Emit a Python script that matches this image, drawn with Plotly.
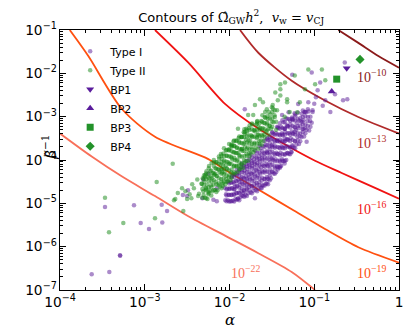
import plotly.graph_objects as go

# log10 values
# contour lines: (log10 alpha, log10 beta^-1)
contour_m10 = [(-0.716, -1.0), (-0.48, -1.297), (-0.244, -1.60), (0.0, -1.87)]
contour_m13 = [(-1.876, -1.0), (-1.66, -1.525), (-1.266, -2.17), (-0.873, -2.627),
               (-0.48, -3.008), (0.0, -3.39)]
contour_m16 = [(-2.879, -1.0), (-2.486, -1.753), (-2.053, -2.704), (-1.66, -3.275),
               (-1.266, -3.731), (-0.991, -4.018), (-0.676, -4.301), (-0.283, -4.644),
               (0.0, -4.895)]
contour_m19 = [(-3.885, -1.0), (-3.666, -1.60), (-3.272, -2.818), (-2.879, -3.464),
               (-2.25, -3.98), (-2.053, -4.224), (-1.66, -4.68), (-1.266, -5.137),
               (-0.873, -5.593), (-0.48, -6.013), (0.0, -6.368)]
contour_m22 = [(-4.0, -3.389), (-3.626, -3.92), (-3.272, -4.377), (-2.879, -4.833),
               (-2.486, -5.30), (-2.053, -5.746), (-1.66, -6.15), (-1.266, -6.583),
               (-0.991, -7.0)]

contour_labels = ["10<sup>\u221210</sup>", "10<sup>\u221213</sup>", "10<sup>\u221216</sup>",
                  "10<sup>\u221219</sup>", "10<sup>\u221222</sup>"]
label_pos = [(-0.322, -2.056), (-0.322, -3.578), (-0.322, -5.10), (-0.322, -6.583), (-1.817, -6.583)]
contour_colors = ["#8b1a1a", "#b02a2a", "#f01212", "#ff5010", "#f8705a"]

typeI_points = [
    (-2.05, -4.93), (-2.041, -4.79), (-2.058, -4.64),
    (-2.02, -4.93), (-2.011, -4.80), (-2.027, -4.66), (-2.015, -4.50),
    (-1.99, -4.95), (-1.979, -4.80), (-1.997, -4.66), (-1.985, -4.52),
    (-1.96, -4.94), (-1.951, -4.79), (-1.967, -4.65), (-1.955, -4.51), (-1.971, -4.37),
    (-1.93, -4.90), (-1.919, -4.76), (-1.937, -4.62), (-1.926, -4.48), (-1.942, -4.34),
    (-1.90, -4.90), (-1.889, -4.75), (-1.907, -4.60), (-1.896, -4.45), (-1.912, -4.31),
    (-1.87, -4.86), (-1.859, -4.72), (-1.877, -4.57), (-1.866, -4.44), (-1.882, -4.30), (-1.862, -4.16),
    (-1.84, -4.83), (-1.829, -4.69), (-1.847, -4.55), (-1.836, -4.41), (-1.852, -4.28), (-1.832, -4.14),
    (-1.81, -4.81), (-1.799, -4.66), (-1.817, -4.52), (-1.806, -4.38), (-1.822, -4.24), (-1.802, -4.10),
    (-1.78, -4.77), (-1.769, -4.62), (-1.787, -4.48), (-1.776, -4.34), (-1.792, -4.21), (-1.772, -4.07),
    (-1.75, -4.75), (-1.739, -4.60), (-1.757, -4.45), (-1.746, -4.31), (-1.762, -4.17), (-1.742, -4.03),
    (-1.753, -3.88),
    (-1.72, -4.71), (-1.709, -4.56), (-1.727, -4.42), (-1.716, -4.27), (-1.732, -4.13), (-1.712, -3.99),
    (-1.69, -4.69), (-1.679, -4.53), (-1.697, -4.38), (-1.686, -4.23), (-1.702, -4.09), (-1.682, -3.94),
    (-1.693, -3.79),
    (-1.66, -4.66), (-1.649, -4.51), (-1.667, -4.36), (-1.656, -4.21), (-1.672, -4.07), (-1.652, -3.92),
    (-1.63, -4.64), (-1.619, -4.48), (-1.637, -4.32), (-1.626, -4.17), (-1.642, -4.03), (-1.622, -3.88),
    (-1.633, -3.73),
    (-1.60, -4.59), (-1.589, -4.44), (-1.607, -4.28), (-1.596, -4.13), (-1.612, -3.99), (-1.592, -3.84),
    (-1.603, -3.68),
    (-1.57, -4.54), (-1.559, -4.39), (-1.577, -4.24), (-1.566, -4.09), (-1.582, -3.94), (-1.562, -3.80),
    (-1.573, -3.65), (-1.556, -3.50),
    (-1.54, -4.44), (-1.529, -4.29), (-1.547, -4.14), (-1.536, -3.99), (-1.552, -3.84), (-1.532, -3.69),
    (-1.543, -3.54),
    (-1.51, -4.42), (-1.499, -4.27), (-1.517, -4.12), (-1.506, -3.97), (-1.522, -3.82), (-1.502, -3.67),
    (-1.513, -3.52), (-1.496, -3.37),
    (-1.48, -4.31), (-1.469, -4.15), (-1.487, -4.00), (-1.476, -3.85), (-1.492, -3.70), (-1.472, -3.55),
    (-1.483, -3.40),
    (-1.45, -4.28), (-1.439, -4.13), (-1.457, -3.98), (-1.446, -3.83), (-1.462, -3.68), (-1.442, -3.53),
    (-1.453, -3.38), (-1.436, -3.23),
    (-1.42, -4.17), (-1.409, -4.01), (-1.427, -3.86), (-1.416, -3.71), (-1.432, -3.56), (-1.412, -3.41),
    (-1.423, -3.26),
    (-1.39, -4.13), (-1.379, -3.98), (-1.397, -3.83), (-1.386, -3.68), (-1.402, -3.53), (-1.382, -3.38),
    (-1.393, -3.23), (-1.376, -3.08),
    (-1.36, -4.03), (-1.349, -3.88), (-1.367, -3.73), (-1.356, -3.58), (-1.372, -3.43), (-1.352, -3.28),
    (-1.363, -3.13),
    (-1.33, -4.00), (-1.319, -3.84), (-1.337, -3.68), (-1.326, -3.52), (-1.342, -3.36), (-1.322, -3.20),
    (-1.333, -3.04),
    (-1.30, -3.86), (-1.289, -3.70), (-1.307, -3.54), (-1.296, -3.38), (-1.312, -3.22), (-1.292, -3.06),
    (-1.303, -2.90),
    (-1.27, -3.82), (-1.259, -3.66), (-1.277, -3.50), (-1.266, -3.34), (-1.282, -3.18), (-1.262, -3.02),
    (-1.24, -3.72), (-1.229, -3.56), (-1.247, -3.40), (-1.236, -3.24), (-1.252, -3.08), (-1.232, -2.92),
    (-1.21, -3.64), (-1.199, -3.47), (-1.217, -3.31), (-1.206, -3.15), (-1.222, -2.99),
    (-1.18, -3.63), (-1.169, -3.45), (-1.187, -3.27), (-1.176, -3.09), (-1.192, -2.91),
    (-1.15, -3.47), (-1.139, -3.29), (-1.157, -3.11), (-1.146, -2.93),
    (-1.12, -3.46), (-1.109, -3.27), (-1.127, -3.08), (-1.116, -2.89),
    (-1.09, -3.30), (-1.079, -3.10), (-1.097, -2.90),
    (-1.06, -3.32), (-1.049, -3.10), (-1.067, -2.88),
    (-1.03, -3.14), (-1.019, -2.89),
    # second pass through the dense core
    (-2.035, -4.95), (-2.035, -4.82), (-2.035, -4.68),
    (-2.005, -4.96), (-2.005, -4.81), (-2.005, -4.67), (-2.005, -4.54),
    (-1.975, -4.95), (-1.975, -4.81), (-1.975, -4.66), (-1.975, -4.52), (-1.975, -4.40),
    (-1.945, -4.96), (-1.945, -4.80), (-1.945, -4.68), (-1.945, -4.54), (-1.945, -4.39),
    (-1.915, -4.92), (-1.915, -4.77), (-1.915, -4.61), (-1.915, -4.49), (-1.915, -4.36), (-1.915, -4.23),
    (-1.885, -4.93), (-1.885, -4.77), (-1.885, -4.64), (-1.885, -4.50), (-1.885, -4.36), (-1.885, -4.23),
    (-1.855, -4.82), (-1.855, -4.66), (-1.855, -4.51), (-1.855, -4.39), (-1.855, -4.23), (-1.855, -4.08),
    (-1.825, -4.85), (-1.825, -4.72), (-1.825, -4.58), (-1.825, -4.43), (-1.825, -4.30), (-1.825, -4.17),
    (-1.795, -4.83), (-1.795, -4.68), (-1.795, -4.57), (-1.795, -4.43), (-1.795, -4.29), (-1.795, -4.15),
    (-1.795, -4.02),
    (-1.765, -4.70), (-1.765, -4.56), (-1.765, -4.40), (-1.765, -4.27), (-1.765, -4.12), (-1.765, -3.98),
    (-1.735, -4.77), (-1.735, -4.61), (-1.735, -4.48), (-1.735, -4.33), (-1.735, -4.19), (-1.735, -4.07),
    (-1.735, -3.94),
    (-1.705, -4.64), (-1.705, -4.48), (-1.705, -4.33), (-1.705, -4.18), (-1.705, -4.05), (-1.705, -3.90),
    (-1.675, -4.72), (-1.675, -4.57), (-1.675, -4.41), (-1.675, -4.26), (-1.675, -4.12), (-1.675, -3.98),
    (-1.675, -3.84),
    (-1.645, -4.58), (-1.645, -4.42), (-1.645, -4.28), (-1.645, -4.12), (-1.645, -3.98), (-1.645, -3.83),
    (-1.645, -3.67),
    (-1.615, -4.58), (-1.615, -4.41), (-1.615, -4.25), (-1.615, -4.10), (-1.615, -3.95), (-1.615, -3.79),
    (-1.585, -4.59), (-1.585, -4.44), (-1.585, -4.29), (-1.585, -4.15), (-1.585, -4.01), (-1.585, -3.86),
    (-1.585, -3.70), (-1.585, -3.56),
    (-1.555, -4.43), (-1.555, -4.27), (-1.555, -4.12), (-1.555, -3.96), (-1.555, -3.82), (-1.555, -3.66),
    (-1.555, -3.52),
    (-1.525, -4.47), (-1.525, -4.36), (-1.525, -4.20), (-1.525, -4.05), (-1.525, -3.89), (-1.525, -3.74),
    (-1.525, -3.60), (-1.525, -3.46),
    (-1.495, -4.27), (-1.495, -4.11), (-1.495, -3.96), (-1.495, -3.81), (-1.495, -3.65), (-1.495, -3.51),
    (-1.495, -3.36),
    (-1.465, -4.32), (-1.465, -4.19), (-1.465, -4.03), (-1.465, -3.88), (-1.465, -3.72), (-1.465, -3.58),
    (-1.465, -3.42),
    (-1.435, -4.17), (-1.435, -4.02), (-1.435, -3.86), (-1.435, -3.70), (-1.435, -3.56), (-1.435, -3.41),
    (-1.435, -3.25),
    (-1.405, -4.18), (-1.405, -4.04), (-1.405, -3.89), (-1.405, -3.73), (-1.405, -3.58), (-1.405, -3.43),
    (-1.405, -3.28), (-1.405, -3.15),
    (-1.375, -4.02), (-1.375, -3.87), (-1.375, -3.71), (-1.375, -3.57), (-1.375, -3.41), (-1.375, -3.26),
    (-1.345, -4.02), (-1.345, -3.86), (-1.345, -3.73), (-1.345, -3.57), (-1.345, -3.42), (-1.345, -3.28),
    (-1.345, -3.13),
    (-1.315, -3.84), (-1.315, -3.69), (-1.315, -3.52), (-1.315, -3.38), (-1.315, -3.22), (-1.315, -3.05),
    (-1.285, -3.87), (-1.285, -3.72), (-1.285, -3.56), (-1.285, -3.41), (-1.285, -3.25), (-1.285, -3.10),
    (-1.255, -3.69), (-1.255, -3.53), (-1.255, -3.38), (-1.255, -3.21), (-1.255, -3.06),
    (-1.225, -3.73), (-1.225, -3.57), (-1.225, -3.41), (-1.225, -3.25), (-1.225, -3.09), (-1.225, -2.95),
    (-1.195, -3.55), (-1.195, -3.38), (-1.195, -3.22), (-1.195, -3.06),
    (-1.165, -3.57), (-1.165, -3.39), (-1.165, -3.21), (-1.165, -3.03),
    (-1.135, -3.36), (-1.135, -3.18), (-1.135, -3.01), (-1.135, -2.86),
    (-1.105, -3.38), (-1.105, -3.18), (-1.105, -2.99),
    (-1.075, -3.21), (-1.075, -3.01), (-1.075, -2.83),
    (-1.045, -3.23), (-1.045, -3.00),
    # upper tail
    (-1.26, -2.03), (-1.03, -1.98), (-0.96, -2.39), (-0.87, -2.62), (-0.755, -2.48),
    (-0.66, -2.62), (-0.61, -2.60), (-1.07, -2.67), (-1.19, -2.71), (-1.11, -2.89),
    (-1.02, -2.85), (-1.26, -3.05), (-1.14, -3.12), (-1.38, -2.96), (-1.35, -3.28),
    (-1.13, -3.28), (-1.23, -3.35), (-1.35, -3.51), (-1.82, -2.83), (-0.93, -2.21),
    (-0.81, -2.89), (-0.64, -1.75), (-0.98, -2.55), (-0.90, -2.75), (-1.00, -2.70),
    # lower-right fringe
    (-1.09, -3.58), (-1.40, -4.15), (-1.545, -4.56), (-1.27, -3.81), (-1.70, -4.88),
    (-1.90, -4.88), (-1.84, -4.76), (-1.94, -4.67), (-1.62, -4.65), (-1.56, -4.54),
    (-1.43, -4.22), (-1.35, -4.08),
    # left fringe
    (-2.55, -4.81), (-2.50, -4.83), (-2.32, -4.88), (-2.19, -4.92), (-2.15, -4.95),
    (-2.31, -4.45), (-2.25, -4.31), (-2.15, -4.65), (-2.49, -4.70),
    # outliers
    (-3.626, -6.635), (-3.418, -6.583), (-3.292, -6.20), (-3.29, -6.21), (-3.469, -5.084),
    (-3.127, -5.045), (-3.048, -5.456), (-2.95, -5.593), (-2.80, -5.03), (-2.793, -5.44),
    (-2.737, -5.175),
]

typeII_points = [
    (-2.32, -4.87), (-2.309, -4.72), (-2.327, -4.55), (-2.316, -4.42),
    (-2.29, -4.87), (-2.279, -4.66), (-2.297, -4.50), (-2.286, -4.34),
    (-2.26, -4.90), (-2.249, -4.73), (-2.267, -4.57), (-2.256, -4.40), (-2.272, -4.26),
    (-2.23, -4.71), (-2.219, -4.58), (-2.237, -4.42), (-2.226, -4.26), (-2.242, -4.14),
    (-2.20, -4.72), (-2.189, -4.57), (-2.207, -4.42), (-2.196, -4.30), (-2.212, -4.07),
    (-2.17, -4.69), (-2.159, -4.50), (-2.177, -4.34), (-2.166, -4.19), (-2.182, -4.05),
    (-2.14, -4.70), (-2.129, -4.58), (-2.147, -4.37), (-2.136, -4.21), (-2.152, -4.05),
    (-2.11, -4.61), (-2.099, -4.44), (-2.117, -4.28), (-2.106, -4.11), (-2.122, -3.97), (-2.102, -3.86),
    (-2.08, -4.60), (-2.069, -4.42), (-2.087, -4.29), (-2.076, -4.13), (-2.092, -3.97), (-2.072, -3.85),
    (-2.05, -4.56), (-2.039, -4.43), (-2.057, -4.28), (-2.046, -4.13), (-2.062, -4.01), (-2.042, -3.78),
    (-2.02, -4.49), (-2.009, -4.40), (-2.027, -4.21), (-2.016, -4.05), (-2.032, -3.90), (-2.012, -3.76),
    (-1.99, -4.47), (-1.979, -4.29), (-1.997, -4.08), (-1.986, -3.92), (-2.002, -3.76), (-1.982, -3.65),
    (-1.96, -4.32), (-1.949, -4.15), (-1.967, -3.99), (-1.956, -3.82), (-1.972, -3.68), (-1.952, -3.57),
    (-1.93, -4.31), (-1.919, -4.13), (-1.937, -4.00), (-1.926, -3.84), (-1.942, -3.68), (-1.922, -3.56),
    (-1.90, -4.27), (-1.889, -4.14), (-1.907, -3.99), (-1.896, -3.84), (-1.912, -3.72), (-1.892, -3.49),
    (-1.87, -4.20), (-1.859, -4.11), (-1.877, -3.92), (-1.866, -3.76), (-1.882, -3.61), (-1.862, -3.47),
    (-1.84, -4.18), (-1.829, -4.00), (-1.847, -3.79), (-1.836, -3.63), (-1.852, -3.47), (-1.832, -3.36),
    (-1.81, -4.03), (-1.799, -3.86), (-1.817, -3.70), (-1.806, -3.53), (-1.822, -3.39), (-1.802, -3.28),
    (-1.78, -4.02), (-1.769, -3.84), (-1.787, -3.71), (-1.776, -3.55), (-1.792, -3.39), (-1.772, -3.27),
    (-1.75, -3.85), (-1.739, -3.70), (-1.757, -3.55), (-1.746, -3.43), (-1.762, -3.20),
    (-1.72, -3.82), (-1.709, -3.63), (-1.727, -3.47), (-1.716, -3.32), (-1.732, -3.18),
    (-1.69, -3.71), (-1.679, -3.50), (-1.697, -3.34), (-1.686, -3.18),
    (-1.66, -3.74), (-1.649, -3.57), (-1.667, -3.41), (-1.656, -3.24), (-1.672, -3.10),
    (-1.63, -3.55), (-1.619, -3.42), (-1.637, -3.26), (-1.626, -3.10),
    (-1.60, -3.56), (-1.589, -3.41), (-1.607, -3.26), (-1.596, -3.14), (-1.612, -2.97),
    (-1.57, -3.34), (-1.559, -3.18), (-1.577, -3.03),
    (-1.54, -3.42), (-1.529, -3.21), (-1.547, -3.05), (-1.536, -2.89),
    (-1.51, -3.28), (-1.499, -3.12), (-1.517, -2.95),
    (-1.48, -3.13), (-1.469, -2.97), (-1.487, -2.81),
    (-1.45, -3.12), (-1.439, -2.85),
    # second pass through the dense core
    (-2.305, -4.81), (-2.305, -4.58), (-2.305, -4.43),
    (-2.275, -4.88), (-2.275, -4.66), (-2.275, -4.44), (-2.275, -4.31),
    (-2.245, -4.76), (-2.245, -4.63), (-2.245, -4.49), (-2.245, -4.33), (-2.245, -4.19),
    (-2.215, -4.82), (-2.215, -4.63), (-2.215, -4.38), (-2.215, -4.24),
    (-2.185, -4.69), (-2.185, -4.47), (-2.185, -4.31), (-2.185, -4.14), (-2.185, -4.00),
    (-2.155, -4.74), (-2.155, -4.56), (-2.155, -4.37), (-2.155, -4.20), (-2.155, -4.05),
    (-2.125, -4.54), (-2.125, -4.42), (-2.125, -4.23), (-2.125, -4.08), (-2.125, -3.92),
    (-2.095, -4.65), (-2.095, -4.50), (-2.095, -4.32), (-2.095, -4.20), (-2.095, -4.05), (-2.095, -3.90),
    (-2.065, -4.50), (-2.065, -4.33), (-2.065, -4.21), (-2.065, -4.05), (-2.065, -3.91), (-2.065, -3.73),
    (-2.035, -4.50), (-2.035, -4.36), (-2.035, -4.19), (-2.035, -4.04), (-2.035, -3.90), (-2.035, -3.77),
    (-2.005, -4.35), (-2.005, -4.24), (-2.005, -4.09), (-2.005, -3.92), (-2.005, -3.78), (-2.005, -3.63),
    (-1.975, -4.41), (-1.975, -4.22), (-1.975, -4.10), (-1.975, -3.94), (-1.975, -3.80), (-1.975, -3.69),
    (-1.945, -4.28), (-1.945, -4.13), (-1.945, -3.95), (-1.945, -3.82), (-1.945, -3.67), (-1.945, -3.55),
    (-1.915, -4.15), (-1.915, -4.02), (-1.915, -3.84), (-1.915, -3.71), (-1.915, -3.55),
    (-1.885, -4.21), (-1.885, -4.06), (-1.885, -3.89), (-1.885, -3.74), (-1.885, -3.58), (-1.885, -3.46),
    (-1.855, -4.08), (-1.855, -3.92), (-1.855, -3.75), (-1.855, -3.61), (-1.855, -3.47),
    (-1.825, -4.07), (-1.825, -3.91), (-1.825, -3.79), (-1.825, -3.60), (-1.825, -3.47), (-1.825, -3.29),
    (-1.795, -3.91), (-1.795, -3.75), (-1.795, -3.60), (-1.795, -3.46), (-1.795, -3.32),
    (-1.765, -3.92), (-1.765, -3.76), (-1.765, -3.62), (-1.765, -3.46), (-1.765, -3.31),
    (-1.735, -3.76), (-1.735, -3.62), (-1.735, -3.45), (-1.735, -3.29), (-1.735, -3.16),
    (-1.705, -3.77), (-1.705, -3.60), (-1.705, -3.46), (-1.705, -3.31),
    (-1.675, -3.62), (-1.675, -3.47), (-1.675, -3.30), (-1.675, -3.16),
    (-1.645, -3.63), (-1.645, -3.45), (-1.645, -3.30), (-1.645, -3.15),
    (-1.615, -3.45), (-1.615, -3.29), (-1.615, -3.12),
    (-1.585, -3.47), (-1.585, -3.29), (-1.585, -3.15), (-1.585, -3.01),
    (-1.555, -3.32), (-1.555, -3.14), (-1.555, -2.99),
    (-1.525, -3.21), (-1.525, -3.04),
    (-1.495, -3.23), (-1.495, -3.04), (-1.495, -2.89),
    (-1.465, -3.01), (-1.465, -2.85),
    # upper tail
    (-1.40, -2.25), (-1.345, -2.21), (-1.46, -2.44), (-1.605, -2.67), (-1.58, -2.89),
    (-1.675, -3.12), (-1.07, -1.91), (-0.91, -1.91), (-1.23, -2.05), (-0.99, -2.25),
    (-0.87, -2.16), (-1.11, -2.37), (-1.43, -2.62), (-1.32, -2.60), (-1.50, -2.78),
    (-1.70, -2.73), (-1.78, -2.96), (-1.82, -3.35), (-1.90, -3.28), (-1.97, -3.65),
    (-1.85, -3.74), (-1.66, -3.42), (-1.54, -3.28), (-1.62, -3.65), (-1.72, -2.96),
    (-1.56, -2.83), (-1.49, -2.73), (-1.40, -2.37), (-1.64, -2.60), (-1.40, -2.51),
    (-1.32, -2.67), (-1.17, -2.67), (-1.29, -2.89), (-1.45, -3.30), (-1.35, -3.00),
    (-1.20, -2.90),
    # lower-left tail
    (-2.56, -4.65), (-2.50, -4.90), (-2.44, -4.56), (-2.38, -4.45), (-2.32, -4.67),
    (-2.29, -4.38), (-2.21, -4.49), (-2.17, -4.31), (-2.09, -4.22), (-2.08, -4.54),
    (-2.37, -4.83), (-2.25, -4.79), (-2.47, -4.79), (-2.61, -4.76), (-2.64, -4.90),
    (-2.52, -4.72), (-2.45, -4.88), (-2.42, -4.65), (-2.36, -4.78), (-2.33, -4.55),
    (-2.30, -4.35), (-2.28, -4.70),
    # outliers
    (-3.469, -4.871), (-3.422, -5.67), (-3.253, -5.456), (-2.879, -5.342),
    (-2.859, -4.507), (-2.67, -4.087), (-2.655, -4.931), (-2.545, -5.175),
]

bp_names = ["BP1", "BP2", "BP3", "BP4"]
bp_log_alpha = [-0.617, -0.794, -0.735, -0.46]
bp_log_beta = [-1.882, -2.421, -2.134, -1.678]
bp_symbols = ["triangle-down", "triangle-up", "square", "diamond"]
bp_colors = ["#5a1c9c", "#5a1c9c", "#23922a", "#23922a"]

fig = go.Figure()

for pts, col in zip([contour_m10, contour_m13, contour_m16, contour_m19, contour_m22], contour_colors):
    fig.add_trace(go.Scatter(
        x=[10 ** p[0] for p in pts], y=[10 ** p[1] for p in pts],
        mode="lines", line=dict(color=col, width=1.8, shape="spline", smoothing=0.8),
        showlegend=False, hoverinfo="skip"))

fig.add_trace(go.Scatter(
    x=[10 ** p[0] for p in typeI_points], y=[10 ** p[1] for p in typeI_points],
    mode="markers", name="Type I",
    marker=dict(size=4.5, color="rgba(88,24,150,0.5)", line=dict(width=0))))
fig.add_trace(go.Scatter(
    x=[10 ** p[0] for p in typeII_points], y=[10 ** p[1] for p in typeII_points],
    mode="markers", name="Type II",
    marker=dict(size=4.5, color="rgba(20,135,20,0.5)", line=dict(width=0))))

for name, a, b, sym, col in zip(bp_names, bp_log_alpha, bp_log_beta, bp_symbols, bp_colors):
    fig.add_trace(go.Scatter(
        x=[10 ** a], y=[10 ** b], mode="markers", name=name,
        marker=dict(size=7, symbol=sym, color=col, line=dict(width=0))))

for text, (lx, ly), col in zip(contour_labels, label_pos, contour_colors):
    fig.add_annotation(x=lx, y=ly, xref="x", yref="y", text=text, showarrow=False,
                       font=dict(family="Liberation Serif", size=14, color=col))

axis_style = dict(
    type="log", dtick=1, exponentformat="power", showgrid=False, zeroline=False,
    ticks="inside", ticklen=6, tickcolor="black", tickwidth=1,
    showline=True, linecolor="black", linewidth=1, mirror="ticks",
    tickfont=dict(family="DejaVu Sans", size=11, color="black"),
    minor=dict(ticks="inside", ticklen=3, tickcolor="black", showgrid=False),
)
fig.update_xaxes(range=[-4, 0], **axis_style)
fig.update_yaxes(range=[-7, -1], **axis_style)

fig.add_annotation(x=0.5, y=-0.114, xref="paper", yref="paper", text="<i>\u03b1</i>",
                   showarrow=False, yanchor="middle",
                   font=dict(family="DejaVu Serif", size=15, color="black"))
fig.add_annotation(x=-0.068, y=0.551, xref="paper", yref="paper",
                   text="<i>\u03b2\u0303</i><sup>\u22121</sup>", showarrow=False, textangle=-90,
                   font=dict(family="DejaVu Serif", size=15, color="black"))

title = ('Contours of <span style="font-family:DejaVu Serif">\u03a9\u0302<sub>GW</sub>'
         '<i>h</i><sup>2</sup>,  <i>v</i><sub>w</sub> = <i>v</i><sub>CJ</sub></span>')
# the page body adds an 8 px offset, so the figure is 8 px smaller than the window
fig.update_layout(
    width=408, height=326,
    margin=dict(l=52, r=17, t=19, b=44),
    paper_bgcolor="white", plot_bgcolor="white",
    title=dict(text=title, x=0.547, xanchor="center", y=0.972, yanchor="middle",
               font=dict(family="DejaVu Sans", size=13, color="black")),
    legend=dict(x=0.03, y=0.974, xanchor="left", yanchor="top", bgcolor="rgba(0,0,0,0)",
                font=dict(family="DejaVu Sans", size=11, color="black"),
                itemsizing="trace", tracegroupgap=0),
    showlegend=True,
)

fig.write_html("out.html")
